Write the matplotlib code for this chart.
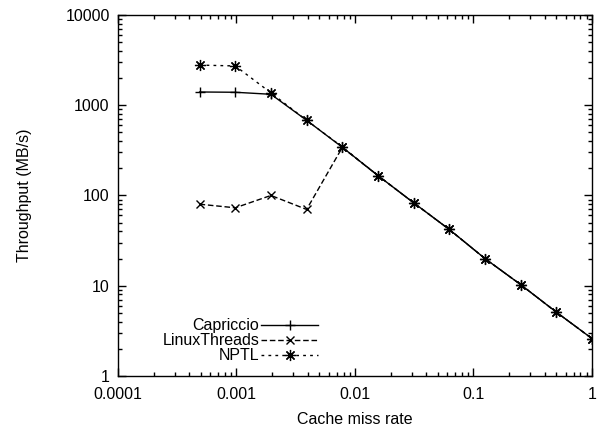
import numpy as np
import matplotlib
matplotlib.use('Agg')
import matplotlib.pyplot as plt
from matplotlib.ticker import LogLocator, FuncFormatter, NullFormatter

# Настройки шрифта
plt.rcParams['font.family'] = ['Liberation Sans', 'DejaVu Sans']
plt.rcParams['font.size'] = 11.5

# Данные: доля промахов кэша (2^-11 ... 2^0) и пропускная способность
miss_rate = [1/2048, 1/1024, 1/512, 1/256, 1/128, 1/64, 1/32, 1/16, 1/8, 1/4, 1/2, 1]
capriccio = [1400, 1390, 1320, 680, 342, 166, 83, 42, 20, 10.3, 5.1, 2.6]
linuxthreads = [80, 73, 100, 70, 340, 166, 83, 42, 20, 10.3, 5.1, 2.6]
nptl = [2780, 2720, 1370, 680, 345, 166, 83, 42, 20, 10.3, 5.1, 2.6]

labels = ['Capriccio', 'LinuxThreads', 'NPTL']

fig = plt.figure(figsize=(6.03, 4.33), dpi=100)
ax = fig.add_axes([0.1957, 0.1316, 0.786, 0.834])

ax.plot(miss_rate, capriccio, color='black', linewidth=1.0, linestyle='-',
        marker='+', markersize=7, markeredgewidth=1.0, label=labels[0])
ax.plot(miss_rate, linuxthreads, color='black', linewidth=1.0, linestyle=(0, (4, 2)),
        marker='x', markersize=6, markeredgewidth=1.0, label=labels[1])
ax.plot(miss_rate, nptl, color='black', linewidth=1.0, linestyle=(0, (2, 3)),
        marker=(8, 2, 0), markersize=8, markeredgewidth=0.9, label=labels[2])

ax.set_xscale('log')
ax.set_yscale('log')
ax.set_xlim(0.0001, 1)
ax.set_ylim(1, 10000)

fmt = FuncFormatter(lambda v, pos: '%g' % v)
for axis in (ax.xaxis, ax.yaxis):
    axis.set_major_locator(LogLocator(base=10))
    axis.set_minor_locator(LogLocator(base=10, subs=np.arange(2, 10)))
    axis.set_major_formatter(fmt)
    axis.set_minor_formatter(NullFormatter())

ax.tick_params(which='both', direction='in', top=True, right=True, width=1.0)
ax.tick_params(which='major', length=6)
ax.tick_params(axis='x', which='major', pad=8)
ax.tick_params(axis='y', which='major', pad=6)
ax.tick_params(which='minor', length=3)
for s in ax.spines.values():
    s.set_linewidth(1.0)

ax.set_xlabel('Cache miss rate', labelpad=7)
ax.set_ylabel('Throughput (MB/s)', labelpad=24)

ax.legend(loc='lower left', bbox_to_anchor=(0.08, 0.017), frameon=False,
          markerfirst=False, handlelength=3.6, handletextpad=0.1,
          labelspacing=0.0, borderaxespad=0.0)

fig.savefig('out.png', dpi=100)
